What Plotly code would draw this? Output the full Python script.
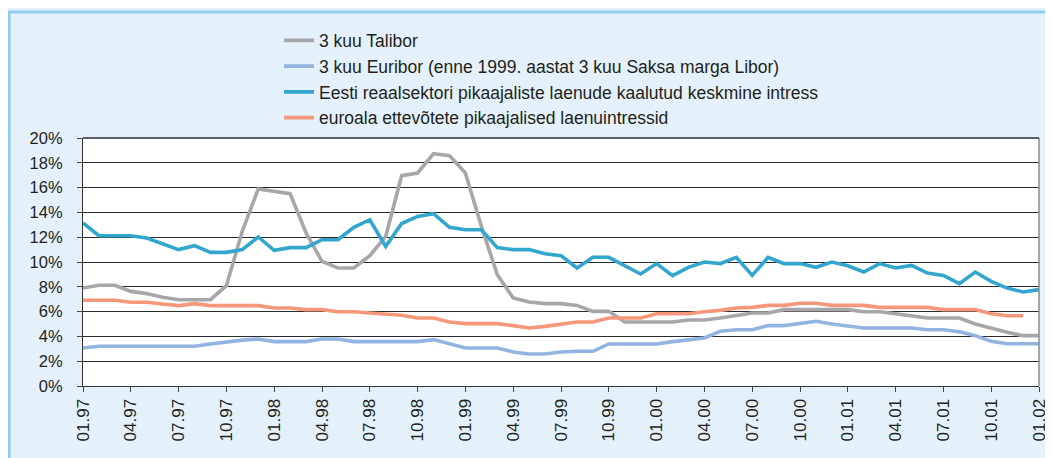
import plotly.graph_objects as go

# Monthly categories 01.97 .. 01.02
months = [f"{m:02d}.{y:02d}" for y in (97, 98, 99, 0, 1, 2) for m in range(1, 13)]
months = months[:61]
tick_labels = months[::3]

talibor = [7.90, 8.12, 8.12, 7.63, 7.45, 7.15, 6.96, 6.96, 6.96, 8.09,
           12.5, 15.89, 15.7, 15.51, 12.34, 10.05, 9.52, 9.52, 10.51, 12.07,
           16.96, 17.18, 18.74, 18.58, 17.18, 12.88, 8.98, 7.1, 6.77, 6.64,
           6.64, 6.5, 6.02, 6.02, 5.16, 5.16, 5.16, 5.16, 5.32, 5.32,
           5.48, 5.67, 5.89, 5.89, 6.16, 6.16, 6.16, 6.16, 6.16, 5.99,
           5.99, 5.83, 5.67, 5.48, 5.48, 5.48, 5.0, 4.65, 4.33, 4.06, 4.06]

euribor = [3.06, 3.2, 3.2, 3.2, 3.2, 3.2, 3.2, 3.2, 3.39, 3.58,
           3.7, 3.79, 3.58, 3.58, 3.58, 3.79, 3.79, 3.58, 3.58, 3.58,
           3.58, 3.58, 3.74, 3.39, 3.06, 3.06, 3.06, 2.74, 2.58, 2.58,
           2.74, 2.8, 2.8, 3.39, 3.39, 3.39, 3.39, 3.58, 3.74, 3.87,
           4.41, 4.54, 4.54, 4.87, 4.87, 5.03, 5.22, 5.0, 4.81, 4.68,
           4.68, 4.68, 4.68, 4.54, 4.54, 4.38, 4.06, 3.6, 3.41, 3.41, 3.41]

eesti = [13.15, 12.12, 12.12, 12.12, 11.94, 11.48, 11.0, 11.32, 10.78, 10.78,
         11.0, 12.02, 10.94, 11.16, 11.16, 11.80, 11.80, 12.80, 13.41, 11.26,
         13.1, 13.68, 13.9, 12.8, 12.6, 12.6, 11.16, 11.0, 11.0, 10.67,
         10.51, 9.52, 10.38, 10.38, 9.70, 9.03, 9.87, 8.90, 9.57, 10.0,
         9.87, 10.38, 8.92, 10.38, 9.87, 9.87, 9.57, 10.0, 9.70, 9.19,
         9.87, 9.52, 9.73, 9.11, 8.92, 8.25, 9.19, 8.44, 7.90, 7.58, 7.77]

euroala = [6.91, 6.91, 6.91, 6.75, 6.75, 6.61, 6.48, 6.64, 6.48, 6.48,
           6.48, 6.48, 6.29, 6.29, 6.16, 6.16, 5.99, 5.99, 5.89, 5.83,
           5.7, 5.48, 5.48, 5.16, 5.03, 5.03, 5.03, 4.87, 4.68, 4.81,
           5.0, 5.16, 5.16, 5.48, 5.48, 5.48, 5.83, 5.83, 5.83, 5.99,
           6.1, 6.29, 6.34, 6.5, 6.5, 6.67, 6.67, 6.5, 6.5, 6.5,
           6.34, 6.34, 6.34, 6.34, 6.16, 6.16, 6.16, 5.83, 5.67, 5.67, None]

series_names = [
    "3 kuu Talibor",
    "3 kuu Euribor (enne 1999. aastat 3 kuu Saksa marga Libor)",
    "Eesti reaalsektori pikaajaliste laenude kaalutud keskmine intress",
    "euroala ettevõtete pikaajalised laenuintressid",
]
series_values = [talibor, euribor, eesti, euroala]
series_colors = ["#A7A7A9", "#93B4E0", "#33A6CE", "#F4977B"]

FONT = "Arial, Liberation Sans, sans-serif"
# the page body adds an 8px margin, so figure coords = page coords - 8
W, H = 1053, 458
L, T = 75, 130
PW, PH = 956, 248
R, B = W - L - PW, H - T - PH

fig = go.Figure()
for name, vals, col in zip(series_names, series_values, series_colors):
    fig.add_trace(go.Scatter(
        x=months, y=[None if v is None else v / 100 for v in vals],
        mode="lines", name=name,
        line=dict(color=col, width=3.6), connectgaps=False,
    ))

fig.update_layout(
    width=W, height=H,
    margin=dict(l=L, r=R, t=T, b=B, autoexpand=False),
    paper_bgcolor="#E4F1FA", plot_bgcolor="#FFFFFF",
    font=dict(family=FONT, size=15, color="#231F20"),
    showlegend=True,
    legend=dict(x=271 / W, y=1 - 14.5 / H, xref="container", yref="container",
                xanchor="left", yanchor="top", bgcolor="rgba(0,0,0,0)",
                font=dict(family=FONT, size=17.5, color="#231F20"),
                itemwidth=30),
    xaxis=dict(type="category", categoryorder="array", categoryarray=months,
               range=[0, 60], tickmode="array", tickvals=tick_labels, ticktext=tick_labels,
               tickangle=-90, ticks="outside", ticklen=5, tickcolor="#444",
               showline=True, linecolor="#333", linewidth=1.2,
               showgrid=False, tickfont=dict(size=17, family=FONT)),
    yaxis=dict(range=[0, 0.2], tickmode="linear", dtick=0.02, tickformat=".0%",
               ticks="outside", ticklen=5, tickcolor="#444", ticklabelstandoff=11,
               showline=True, linecolor="#333", linewidth=1.2,
               showgrid=True, gridcolor="#2A2A2A", gridwidth=1.3, zeroline=False,
               tickfont=dict(size=16.5, family=FONT)),
    shapes=[
        dict(type="line", xref="paper", yref="paper", x0=1, x1=1, y0=0, y1=1,
             line=dict(color="#8C8C8C", width=1.5)),
        dict(type="line", xref="paper", yref="paper", x0=0, x1=1, y0=1, y1=1,
             line=dict(color="#2A2A2A", width=1.3)),
    ],
)

# outer light-blue frame (top and left edges)
ytop = 1 + (T - 4) / PH
xleft = (1 - L) / PW
fig.add_shape(type="line", xref="paper", yref="paper", x0=xleft - 0.002, x1=1.2,
              y0=ytop, y1=ytop, line=dict(color="#8DCFEF", width=3))
fig.add_shape(type="line", xref="paper", yref="paper", x0=xleft, x1=xleft,
              y0=ytop, y1=-0.5, line=dict(color="#8DCFEF", width=3))

fig.write_html("out.html")
